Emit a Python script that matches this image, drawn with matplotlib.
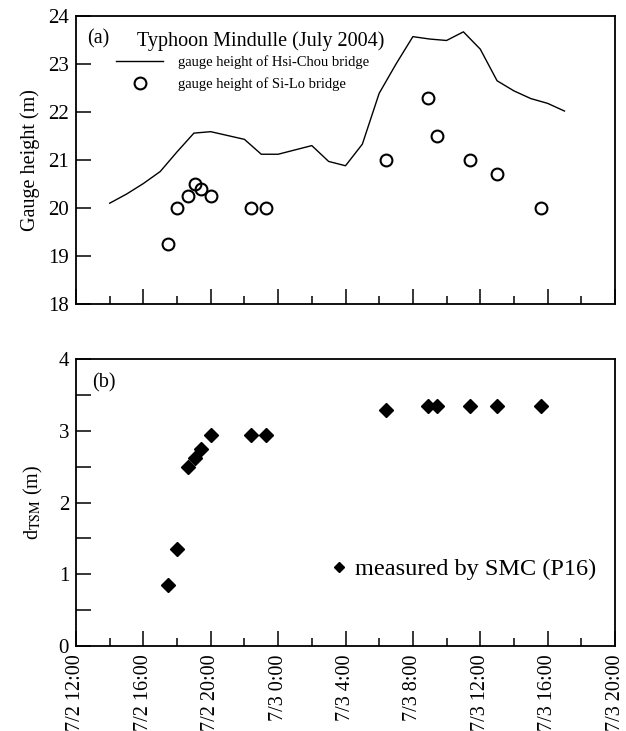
import matplotlib
matplotlib.use("Agg")
import matplotlib.pyplot as plt
from matplotlib.ticker import FixedLocator, MultipleLocator, NullFormatter
from matplotlib.lines import Line2D

plt.rcParams['font.family'] = ['Liberation Serif', 'DejaVu Serif']
plt.rcParams['mathtext.fontset'] = 'stix'

# Hours since 7/2 12:00
hsichou_hours = [2, 3, 4, 5, 6, 7, 8, 9, 10, 11, 12, 13, 14, 15, 16, 17, 18, 19,
                 20, 21, 22, 23, 24, 25, 26, 27, 28, 29]
hsichou_height = [20.10, 20.29, 20.51, 20.76, 21.17, 21.56, 21.59, 21.51, 21.43,
                  21.12, 21.12, 21.21, 21.30, 20.97, 20.88, 21.33, 22.39, 23.00,
                  23.57, 23.52, 23.49, 23.67, 23.31, 22.65, 22.44, 22.28, 22.18, 22.02]

meas_hours = [5.47, 5.97, 6.62, 7.05, 7.45, 8.04, 10.37, 11.26, 18.41, 20.92,
              21.41, 23.41, 24.97, 27.60]
silo_height = [19.25, 20.0, 20.25, 20.5, 20.4, 20.25, 20.0, 20.0, 21.0, 22.3,
               21.5, 21.0, 20.7, 20.0]
dtsm = [0.85, 1.35, 2.50, 2.62, 2.74, 2.94, 2.94, 2.94, 3.29, 3.35, 3.35,
        3.35, 3.35, 3.35]

tick_hours = [0, 4, 8, 12, 16, 20, 24, 28, 32]
tick_labels = ['7/2 12:00', '7/2 16:00', '7/2 20:00', '7/3 0:00', '7/3 4:00',
               '7/3 8:00', '7/3 12:00', '7/3 16:00', '7/3 20:00']

W, H = 626, 731
fig = plt.figure(figsize=(W / 100, H / 100), dpi=100)

def box(l, t, r, b):
    return [l / W, 1 - b / H, (r - l) / W, (b - t) / H]

ax1 = fig.add_axes(box(76, 16, 615, 304))
ax2 = fig.add_axes(box(76, 359, 615, 646))

for ax in (ax1, ax2):
    for s in ax.spines.values():
        s.set_linewidth(1.3)
    ax.set_xlim(0, 32)
    ax.xaxis.set_major_locator(FixedLocator(tick_hours))
    ax.xaxis.set_minor_locator(MultipleLocator(2))
    ax.tick_params(axis='x', which='major', direction='in', length=11, width=1.1,
                   top=False)
    ax.tick_params(axis='x', which='minor', direction='in', length=6, width=1.1,
                   top=False)
    ax.tick_params(axis='y', which='both', direction='in', length=10.5, width=1.1,
                   right=False, labelsize=15, pad=5)

# Panel (a)
ax1.plot(hsichou_hours, hsichou_height, color='black', lw=1.0,
         label='gauge height of Hsi-Chou bridge')
ax1.plot(meas_hours, silo_height, linestyle='none', marker='o', ms=8.5,
         mfc='none', mec='black', mew=1.5, label='gauge height of Si-Lo bridge')
ax1.set_ylim(18, 24)
ax1.yaxis.set_major_locator(MultipleLocator(1))
ax1.xaxis.set_major_formatter(NullFormatter())
ax1.set_ylabel('Gauge height (m)', fontsize=14.5, labelpad=6)
ax1.text(0.02, 0.922, '(a)', transform=ax1.transAxes, fontsize=14.5, va='center')
ax1.text(0.114, 0.911, 'Typhoon Mindulle (July 2004)', transform=ax1.transAxes,
         fontsize=14.5, va='center')
ax1.legend(loc='upper left', bbox_to_anchor=(0.075, 0.864), frameon=False,
           fontsize=10.5, handlelength=3.2, handletextpad=1.0, labelspacing=0.55,
           borderpad=0, borderaxespad=0)

# Panel (b)
ax2.plot(meas_hours, dtsm, linestyle='none', marker='D', ms=7.5, color='black',
         label='measured by SMC (P16)')
ax2.set_ylim(0, 4)
ax2.yaxis.set_major_locator(MultipleLocator(1))
ax2.yaxis.set_minor_locator(MultipleLocator(0.5))
ax2.set_xticklabels(tick_labels, rotation=90, fontsize=14.5)
ax2.tick_params(axis='x', which='major', pad=6)
ax2.set_ylabel(r'd$_{\mathrm{TSM}}$ (m)', fontsize=14.5, labelpad=10)
ax2.text(0.03, 0.916, '(b)', transform=ax2.transAxes, fontsize=14.5, va='center')
ax2.legend(handles=[Line2D([], [], linestyle='none', marker='D', ms=5.5,
                           color='black')],
           labels=['measured by SMC (P16)'], loc='upper left',
           bbox_to_anchor=(0.475, 0.305), frameon=False, fontsize=17.5,
           handlelength=0.6, handletextpad=0.35, borderpad=0,
           borderaxespad=0)

fig.savefig('out.png', dpi=100)
